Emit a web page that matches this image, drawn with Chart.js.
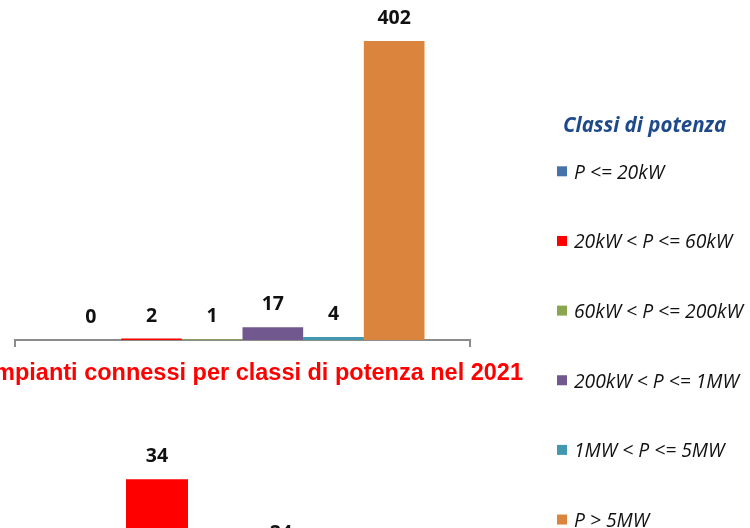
<!DOCTYPE html>
<html>
<head>
<meta charset="utf-8">
<script src="https://cdn.jsdelivr.net/npm/chart.js@4/dist/chart.umd.min.js"></script>
<style>
   body { margin: 0; width: 750px; height: 528px; overflow: hidden; background: #fff; position: relative; }
   canvas { position: absolute; }
   #bottom { top: 350px; left: -120px; }
   #top { top: 0; left: 0; }
</style>
</head>
<body>
<canvas id="bottom" width="645" height="420"></canvas>
<canvas id="top" width="750" height="528"></canvas>
<script>
// classi di potenza
const classi = ['P <= 20kW', '20kW < P <= 60kW', '60kW < P <= 200kW', '200kW < P <= 1MW', '1MW < P <= 5MW', 'P > 5MW']
const colori = ['#4572A7', '#FF0000', '#89A54E', '#71588F', '#4198AF', '#DB843D']

// grafico in alto
const potenzaConnessa = [0, 2, 1, 17, 4, 402]
// grafico sotto (in parte fuori dall'immagine)
const impianti2021 = [10, 34, 18, 24, 7, 2]

const titolo = 'Numero impianti connessi per classi di potenza nel 2021'
const titoloLegenda = 'Classi di potenza'

Chart.defaults.font.family = '"Open Sans"'
Chart.defaults.color = '#111'

// numeri sopra le barre
const valueLabels = {
   id: 'valueLabels',
   afterDatasetsDraw(chart) {
      const ctx = chart.ctx
      ctx.save()
      ctx.font = 'bold 19.5px "Open Sans"'
      ctx.fillStyle = '#111'
      ctx.textAlign = 'center'
      ctx.textBaseline = 'alphabetic'
      chart.data.datasets.forEach((ds, i) => {
         const bar = chart.getDatasetMeta(i).data[0]
         ctx.fillText(ds.data[0], bar.x, bar.y - 17)
      })
      ctx.restore()
   }
}

// legenda a destra, una riga per dataset
const legendaClassi = {
   id: 'legendaClassi',
   afterDraw(chart, args, opts) {
      const ctx = chart.ctx
      ctx.save()
      ctx.textAlign = 'left'
      ctx.textBaseline = 'alphabetic'
      ctx.fillStyle = opts.titleColor
      ctx.font = 'italic bold 20.5px "Open Sans"'
      ctx.fillText(opts.title, opts.titleX, opts.titleY)
      ctx.font = 'italic 19.3px "Open Sans"'
      chart.data.datasets.forEach((ds, i) => {
         const cy = opts.y + i * opts.step
         ctx.fillStyle = ds.backgroundColor
         ctx.fillRect(opts.x, cy - 5, 10, 10)
         ctx.fillStyle = '#111'
         ctx.fillText(ds.label, opts.x + 17, cy + 7.3)
      })
      ctx.restore()
   }
}

function makeDatasets(values) {
   return classi.map((c, i) => ({
      label: c,
      data: [values[i]],
      backgroundColor: colori[i],
      borderWidth: 0,
      barPercentage: 1,
      categoryPercentage: 0.8
   }))
}

const assePiatto = {
   ticks: { display: false },
   grid: { drawOnChartArea: false, tickLength: 7, color: '#8c8c8c', lineWidth: 2 },
   border: { color: '#8c8c8c', width: 2 }
}

function drawTop() {
   new Chart(document.getElementById('top'), {
      type: 'bar',
      data: { labels: [''], datasets: makeDatasets(potenzaConnessa) },
      options: {
         responsive: false,
         animation: false,
         devicePixelRatio: 1,
         layout: { padding: { left: 15, right: 280, top: 0, bottom: 0 } },
         plugins: {
            tooltip: { enabled: false },
            legend: { display: false },
            legendaClassi: {
               title: titoloLegenda,
               titleColor: '#1F4A8A',
               titleX: 563,
               titleY: 131.5,
               x: 557,
               y: 171.3,
               step: 69.65
            }
         },
         scales: {
            x: { ...assePiatto, afterFit: s => { s.height = 188 } },
            y: { display: false, min: 0, max: 457 }
         }
      },
      plugins: [valueLabels, legendaClassi]
   })
}

function drawBottom() {
   // il canvas parte fuori pagina a sinistra, così il titolo non viene compresso
   new Chart(document.getElementById('bottom'), {
      type: 'bar',
      data: { labels: [''], datasets: makeDatasets(impianti2021) },
      options: {
         responsive: false,
         animation: false,
         devicePixelRatio: 1,
         layout: { padding: { left: 0, right: 2, top: 0, bottom: 0 } },
         plugins: {
            tooltip: { enabled: false },
            legend: { display: false },
            title: {
               display: true,
               text: titolo,
               align: 'end',
               color: '#FF0000',
               font: { family: '"Liberation Sans"', size: 23.5, weight: 'bold' },
               padding: { top: 9, bottom: 20 }
            }
         },
         scales: {
            x: { ...assePiatto, afterFit: s => { s.height = 30 } },
            y: {
               position: 'left',
               min: 0,
               max: 43.4,
               ticks: { display: false },
               grid: { display: false },
               border: { display: false },
               afterFit: s => { s.width = 137.5 }
            },
            spazio: {
               type: 'linear',
               position: 'right',
               ticks: { display: false },
               grid: { display: false },
               border: { display: false },
               afterFit: s => { s.width = 40.5 }
            }
         }
      },
      plugins: [valueLabels]
   })
}

Promise.all([
   document.fonts.load('bold 19px "Open Sans"'),
   document.fonts.load('italic 18px "Open Sans"'),
   document.fonts.load('italic bold 20px "Open Sans"'),
   document.fonts.load('bold 23px "Liberation Sans"')
]).catch(() => {}).then(() => {
   drawBottom()
   drawTop()
})
</script>
</body>
</html>
